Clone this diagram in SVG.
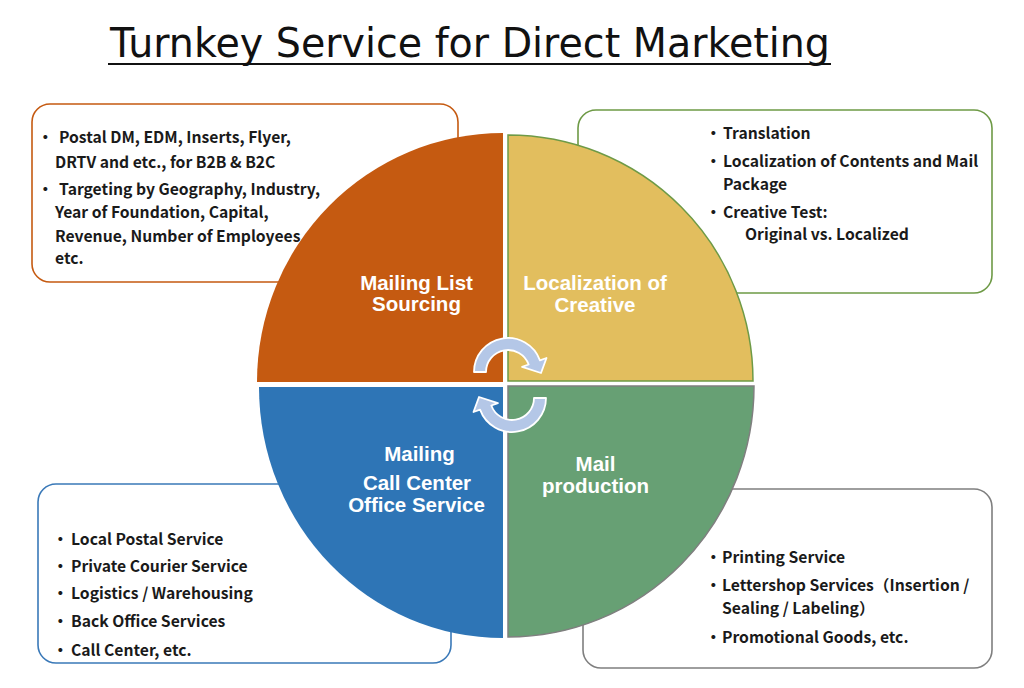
<svg xmlns="http://www.w3.org/2000/svg" width="1024" height="688" viewBox="0 0 1024 688">
<style>
.box{fill:#fff;stroke-width:1.6}
.t{font-family:"Noto Sans CJK JP","Noto Sans",sans-serif;font-weight:bold;font-size:15.7px;fill:#1a1a1a}
.q{font-family:"Liberation Sans",Arial,sans-serif;font-weight:bold;font-size:20.5px;fill:#fff;text-anchor:middle}
.arr{fill:#B4C7E7;stroke:#fff;stroke-width:1.8;stroke-linejoin:round}
</style>
<defs>
<path id="cyc" d="M474,372 A34,34 0 0 1 539.95,360.37 L546.5,357.98 L541,373 L522.1,366.87 L528.67,364.48 A22,22 0 0 0 486,372 Z"/>
</defs>
<rect width="1024" height="688" fill="#fff"/>
<g id="title">
<text x="110" y="57" font-family="DejaVu Sans, sans-serif" font-size="40" fill="#111" textLength="720" lengthAdjust="spacingAndGlyphs">Turnkey Service for Direct Marketing</text>
<line x1="108" y1="64" x2="831" y2="64" stroke="#111" stroke-width="2"/>
</g>
<g id="box-sourcing">
<rect class="box" x="32" y="104" width="426" height="178" rx="18" stroke="#C55A11"/>
<text class="t"><tspan x="37.5" y="143">・</tspan><tspan x="59" y="143">Postal DM, EDM, Inserts, Flyer,</tspan><tspan x="55" y="168">DRTV and etc., for B2B &amp; B2C</tspan><tspan x="37.5" y="195">・</tspan><tspan x="59" y="195">Targeting by Geography, Industry,</tspan><tspan x="55" y="218">Year of Foundation, Capital,</tspan><tspan x="55" y="242">Revenue, Number of Employees,</tspan><tspan x="55" y="264">etc.</tspan></text>
</g>
<g id="box-localization">
<rect class="box" x="578" y="110" width="414" height="183" rx="18" stroke="#6E9A46"/>
<text class="t"><tspan x="705.5" y="139">・</tspan><tspan x="723" y="139">Translation</tspan><tspan x="705.5" y="167">・</tspan><tspan x="723" y="167">Localization of Contents and Mail</tspan><tspan x="723" y="190">Package</tspan><tspan x="705.5" y="218">・</tspan><tspan x="723" y="218">Creative Test:</tspan><tspan x="745" y="240">Original vs. Localized</tspan></text>
</g>
<g id="box-mailing">
<rect class="box" x="38" y="484" width="413" height="179" rx="18" stroke="#3A79B8"/>
<text class="t"><tspan x="52.5" y="545">・</tspan><tspan x="71" y="545">Local Postal Service</tspan><tspan x="52.5" y="572">・</tspan><tspan x="71" y="572">Private Courier Service</tspan><tspan x="52.5" y="599">・</tspan><tspan x="71" y="599">Logistics / Warehousing</tspan><tspan x="52.5" y="627">・</tspan><tspan x="71" y="627">Back Office Services</tspan><tspan x="52.5" y="656">・</tspan><tspan x="71" y="656">Call Center, etc.</tspan></text>
</g>
<g id="box-production">
<rect class="box" x="583" y="489" width="409" height="179" rx="18" stroke="#7F7F7F"/>
<text class="t"><tspan x="705.5" y="563">・</tspan><tspan x="722" y="563">Printing Service</tspan><tspan x="705.5" y="591">・</tspan><tspan x="722" y="591">Lettershop Services（Insertion /</tspan><tspan x="722" y="614">Sealing / Labeling）</tspan><tspan x="705.5" y="643">・</tspan><tspan x="722" y="643">Promotional Goods, etc.</tspan></text>
</g>
<g id="q-sourcing">
<path d="M503,382 L257,382 A246,249 0 0 1 503,133 Z" fill="#C55A11"/>
<text class="q"><tspan x="416.5" y="289.5">Mailing List</tspan><tspan x="416.5" y="311">Sourcing</tspan></text>
</g>
<g id="q-localization">
<path d="M508,381 L508,135 A245,246 0 0 1 753,381 Z" fill="#E2BE5E" stroke="#6E9A46" stroke-width="1.5"/>
<text class="q"><tspan x="595" y="289.5">Localization of</tspan><tspan x="595" y="312">Creative</tspan></text>
</g>
<g id="q-mailing">
<path d="M503,387 L503,638 A244,251 0 0 1 259,387 Z" fill="#2E75B6"/>
<text class="q"><tspan x="419.5" y="461">Mailing</tspan><tspan x="417" y="490">Call Center</tspan><tspan x="416.5" y="511.5">Office Service</tspan></text>
</g>
<g id="q-production">
<path d="M508,386 L754,386 A246,251 0 0 1 508,637 Z" fill="#67A074" stroke="#7F7F7F" stroke-width="1.5"/>
<text class="q"><tspan x="595.5" y="470.5">Mail</tspan><tspan x="595.5" y="493">production</tspan></text>
</g>
<g id="connectors">
<use href="#cyc" class="arr"/>
<use href="#cyc" class="arr" transform="rotate(180 510 385)"/>
</g>
</svg>
